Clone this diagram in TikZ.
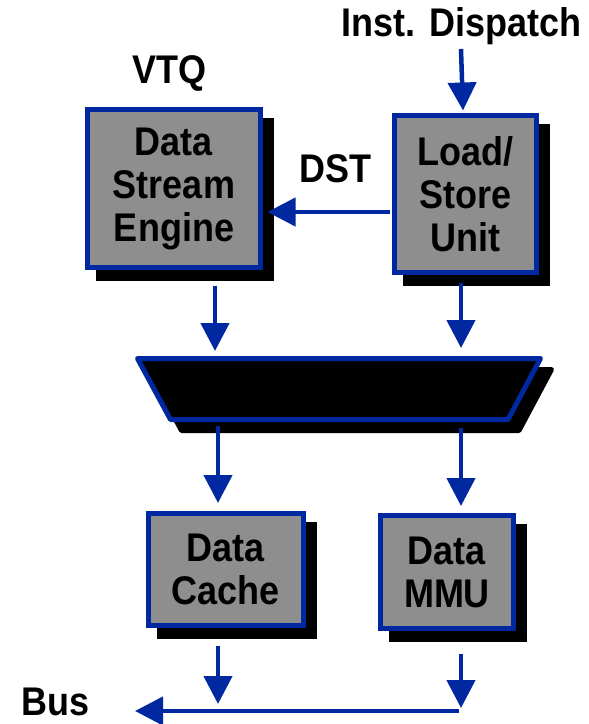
\documentclass[tikz,border=0pt]{standalone}
\usepackage{fontspec}
\setmainfont{Liberation Sans}[FakeStretch=0.9]
\usetikzlibrary{arrows.meta,calc,shadows}
\definecolor{myblue}{RGB}{0,40,160}
\definecolor{boxgray}{RGB}{142,142,142}
\tikzset{
  blk/.style={draw=myblue, line width=5pt, fill=boxgray, align=center, inner sep=0pt,
    font=\fontsize{40}{43}\selectfont\bfseries,
    drop shadow={shadow xshift=11pt, shadow yshift=-11pt, opacity=1, fill=black, draw=black, line width=5pt}},
  arr/.style={draw=myblue, line width=4.5pt, -{Triangle[length=28pt,width=28pt]}},
  lbl/.style={font=\fontsize{40}{43}\selectfont\bfseries, anchor=base, inner sep=0pt}
}
\begin{document}
\begin{tikzpicture}[x=1pt,y=-1pt]
\useasboundingbox (0,0) rectangle (589,724);
% boxes
\node[blk, minimum width=173pt, minimum height=158pt] (dse) at (174,188.5) {Data\\Stream\\Engine};
\node[blk, minimum width=142pt, minimum height=157pt] (lsu) at (465.5,194) {Load/\\Store\\Unit};
\node[blk, minimum width=155pt, minimum height=112pt] (cache) at (226,569.5) {Data\\Cache};
\node[blk, minimum width=133pt, minimum height=113pt] (mmu) at (447,572) {Data\\MMU};
% multiplexer
\draw[black, fill=black, line width=5pt, line join=round] (148.5,369.5) -- (551.5,369.5) -- (519,430.5) -- (181.5,430.5) -- cycle;
\draw[myblue, fill=black, line width=5pt, line join=round] (137.5,358.5) -- (540.5,358.5) -- (508,419.5) -- (170.5,419.5) -- cycle;
\coordinate (mux1) at (215,351);
\coordinate (mux2) at (461,348);
\coordinate (mux3) at (218,426);
\coordinate (mux4) at (461,428);
% labels
\node[lbl] (disp) at (461.5,36) {Inst. Dispatch};
\node[lbl] (vtq) at (169.5,83) {VTQ};
\node[lbl] (dst) at (335.5,182) {DST};
\node[lbl] (bus) at (56,715) {Bus};
% connectors
\coordinate (dispS) at (461,49);
\draw[arr] (dispS) -- ($(lsu.north)+(-2.5,-2.5)$);
\draw[arr] ($(lsu.west)+(-2.5,18)$) -- ($(dse.east)+(4.5,23.5)$);
\draw[arr] ($(dse.south)+(41,15.5)$) -- (mux1);
\draw[arr] ($(lsu.south)+(-4.5,8)$) -- (mux2);
\draw[arr] (mux3) -- ($(cache.north)+(-8,-8)$);
\draw[arr] (mux4) -- ($(mmu.north)+(14,-7)$);
\coordinate (busA) at (218,704);
\coordinate (busB) at (461,708);
\coordinate (busR) at (459,711);
\coordinate (busL) at (135,711);
\draw[arr] ($(cache.south)+(-8,17.5)$) -- (busA);
\draw[arr] ($(mmu.south)+(14,22.5)$) -- (busB);
\draw[arr] (busR) -- (busL);
\end{tikzpicture}
\end{document}
